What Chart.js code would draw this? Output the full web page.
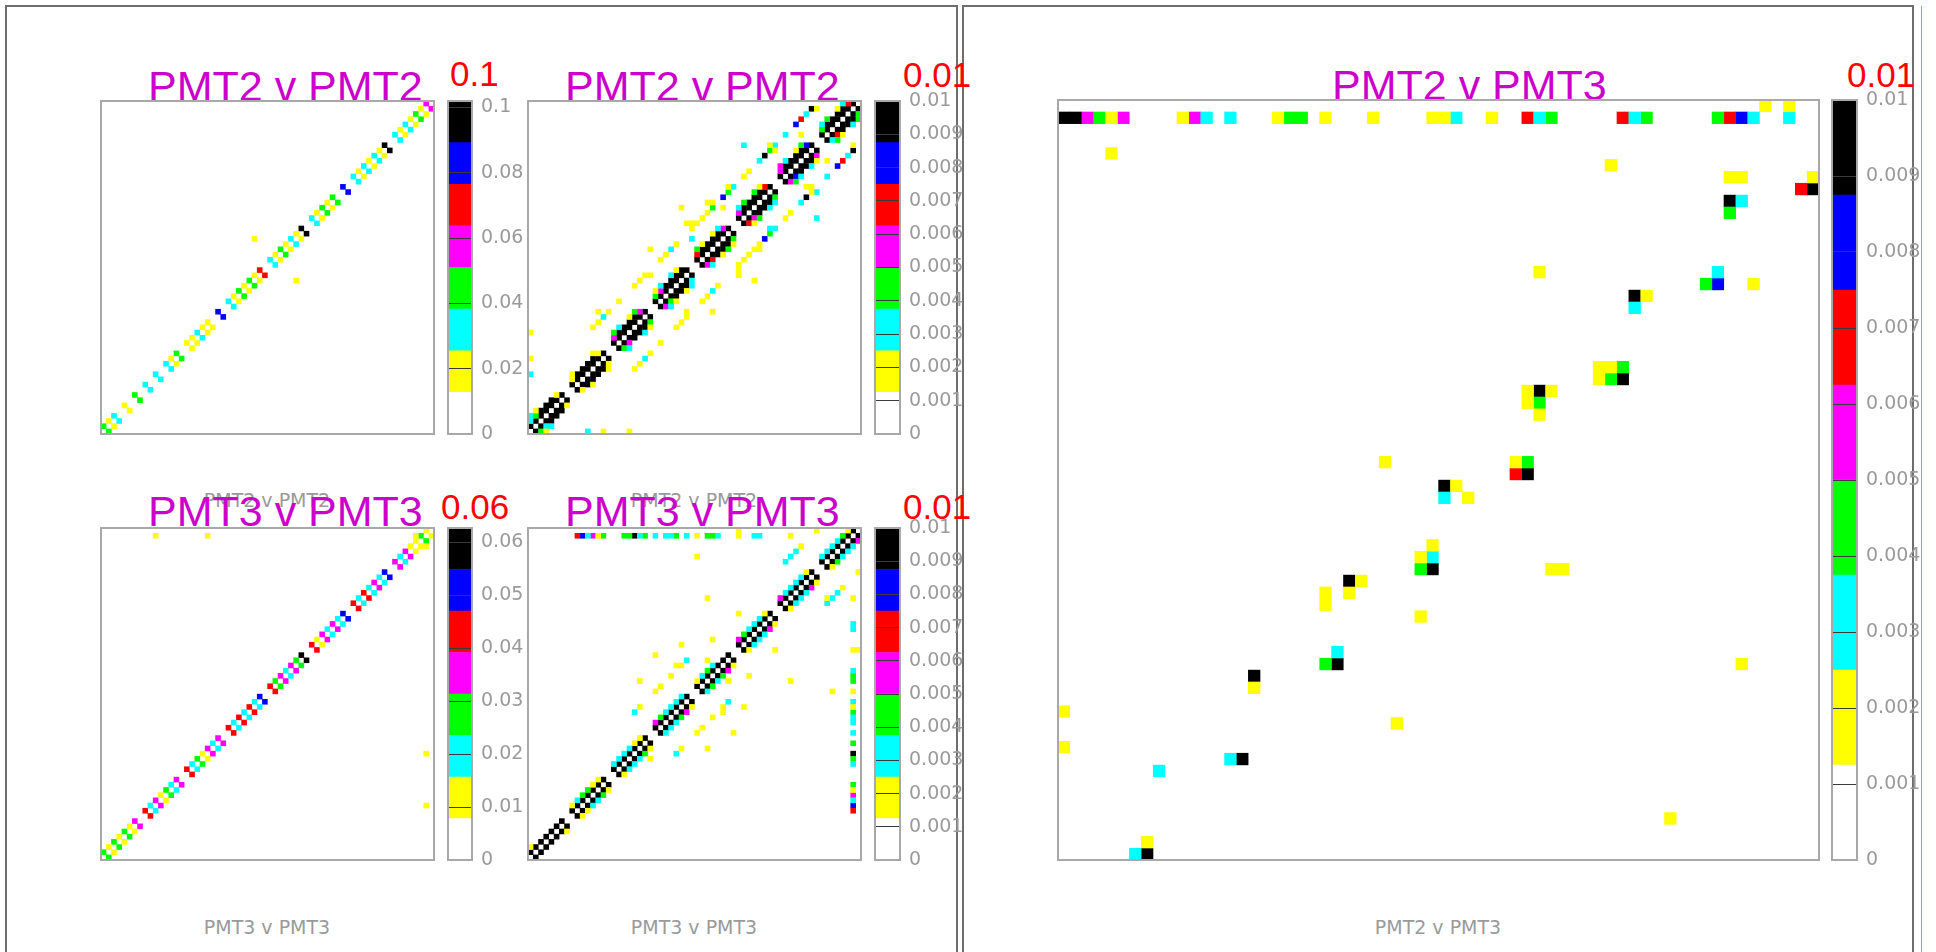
<!DOCTYPE html>
<html>
<head>
<meta charset="utf-8">
<title>PMT correlations</title>
<script src="https://cdn.jsdelivr.net/npm/chart.js@4.4.1/dist/chart.umd.min.js"></script>
<style>
  body { margin: 0; width: 1936px; height: 952px; background: #fff; position: relative; overflow: hidden; }
  canvas { position: absolute; }
  .frame { position: absolute; border: 2px solid #6e6e6e; box-sizing: border-box; }
  .txt { position: absolute; white-space: nowrap; line-height: 1; }
  .title { color: #cc00cc; font: 43px "Liberation Sans", Arial, sans-serif; }
  .zmax { color: #ff0000; font: 35px "Liberation Sans", Arial, sans-serif; }
  .xlab { color: #9a9a9a; font: 19px "DejaVu Sans", sans-serif; text-align: center; width: 300px; }
</style>
</head>
<body>
<div class="frame" style="left:5px;top:5px;width:953px;height:1000px"></div>
<div class="frame" style="left:962px;top:5px;width:952px;height:1000px"></div>
<div style="position:absolute;left:1921px;top:6px;width:1px;height:946px;background:#f08080"></div>

<!-- x axis titles -->
<div class="txt xlab" style="left:117px;top:489px">PMT2 v PMT2</div>
<div class="txt xlab" style="left:544px;top:489px">PMT2 v PMT2</div>
<div class="txt xlab" style="left:117px;top:916px">PMT3 v PMT3</div>
<div class="txt xlab" style="left:544px;top:916px">PMT3 v PMT3</div>
<div class="txt xlab" style="left:1288px;top:916px">PMT2 v PMT3</div>

<!-- histogram titles -->
<div class="txt title" style="left:148px;top:62px">PMT2 v PMT2</div>
<div class="txt title" style="left:565px;top:62px">PMT2 v PMT2</div>
<div class="txt title" style="left:148px;top:487px">PMT3 v PMT3</div>
<div class="txt title" style="left:565px;top:487px">PMT3 v PMT3</div>
<div class="txt title" style="left:1332px;top:61px">PMT2 v PMT3</div>

<!-- maximum of each colour scale -->
<div class="txt zmax" style="left:450px;top:54px">0.1</div>
<div class="txt zmax" style="left:903px;top:55px">0.01</div>
<div class="txt zmax" style="left:441px;top:487px">0.06</div>
<div class="txt zmax" style="left:903px;top:487px">0.01</div>
<div class="txt zmax" style="left:1847px;top:55px">0.01</div>

<script>
// colour bands of the z scale, lowest (empty) first
var bandColours = ['#ffffff', '#ffff00', '#00ffff', '#00ff00', '#ff00ff', '#ff0000', '#0000ff', '#000000'];
var nBins = 64;

// z scale maxima and colour bar tick labels
var zMax1 = 0.102, zMax2 = 0.01, zMax3 = 0.0627, zMax4 = 0.01, zMax5 = 0.01;
var zTicks1 = ['0', '0.02', '0.04', '0.06', '0.08', '0.1'];
var zTicks2 = ['0', '0.001', '0.002', '0.003', '0.004', '0.005', '0.006', '0.007', '0.008', '0.009', '0.01'];
var zTicks3 = ['0', '0.01', '0.02', '0.03', '0.04', '0.05', '0.06'];

// bin contents as colour band (1..7), '.' = empty
// "Dn" strings: bin (i+d, i), "Up" strings: bin (i, i+d), one 8 char group per block of 8 bins

// PMT2 v PMT2, coarse scale
var p1Dn1 = ['312.1.3.', '2.2.213.', '11211.6.', '2131315.', '2131217.', '21313.6.', '2121217.', '2121314'];
var p1Up1 = ['312.1.3.', '2.2.213.', '11211.6.', '2131315.', '2131217.', '21313.6.', '2121217.', '2121314'];
var p1Extra = [[29, 37, 1], [37, 29, 1]];

// PMT2 v PMT2, fine scale
var p2Dn1 = ['7777777.', '7777777.', '7777777.', '7777777.', '7777777.', '7777777.', '7777777.', '7777777'];
var p2Up1 = ['7777777.', '7777777.', '7777777.', '7777777.', '7777777.', '7777777.', '7777777.', '7777777'];
var p2Dn2 = ['327771..', '177771..', '347773..', '437772..', '457773..', '547773..', '467774..', '257773'];
var p2Up2 = ['237771..', '177771..', '477774..', '347777..', '577774..', '477775..', '477776..', '377775'];
var p2Dn3 = ['12......', '.1..1...', '2..21...', '21.12...', '2.131...', '13.22...', '32.21...', '31.23'];
var p2Up3 = ['21......', '1...1...', '32.13...', '12.21...', '31.12...', '23.31...', '42.13...', '23.12'];
var p2Extra = [
  [0, 19, 1], [0, 14, 1], [0, 11, 2], [11, 0, 2], [14, 0, 1], [19, 0, 1],
  [13, 23, 1], [14, 22, 2], [15, 23, 1], [13, 21, 1], [12, 20, 1], [17, 25, 1],
  [20, 28, 1], [21, 29, 1], [22, 30, 1], [23, 30, 1], [25, 33, 1],
  [25, 17, 1], [23, 15, 1], [22, 14, 2], [21, 13, 1], [20, 12, 1],
  [28, 20, 1], [29, 21, 1], [30, 22, 1], [30, 23, 1], [33, 25, 1],
  [54, 62, 7], [55, 62, 1], [53, 61, 2], [52, 60, 5], [51, 59, 6], [49, 57, 2], [52, 57, 1],
  [41, 55, 2], [46, 55, 1], [47, 55, 2], [46, 54, 3], [47, 54, 1], [45, 53, 7], [44, 52, 2],
  [42, 50, 1], [41, 49, 1], [57, 49, 2], [55, 41, 2],
  [62, 55, 1], [62, 54, 7], [61, 53, 2], [60, 52, 5], [59, 51, 6], [57, 52, 1],
  [53, 47, 1], [54, 47, 1], [55, 46, 2], [54, 46, 1], [53, 45, 7], [52, 44, 2], [49, 41, 1], [50, 42, 1],
  [38, 47, 1], [39, 47, 2], [38, 46, 3], [37, 45, 6], [34, 44, 1], [35, 44, 1], [35, 43, 3], [37, 43, 1],
  [33, 41, 1], [34, 42, 1], [32, 40, 1], [31, 39, 1], [31, 37, 2],
  [42, 34, 1], [43, 35, 1], [44, 36, 1], [44, 35, 1], [46, 39, 2], [47, 39, 2], [46, 38, 3], [45, 37, 6],
  [41, 33, 1], [40, 32, 1], [29, 43, 1], [43, 29, 1], [30, 40, 1], [31, 40, 1], [40, 30, 1], [40, 31, 1],
  [27, 35, 2], [35, 27, 2], [28, 36, 1], [36, 28, 1], [23, 35, 1], [35, 23, 1], [26, 34, 1], [34, 26, 1]
];

// PMT3 v PMT3, coarse scale
var p3Dn1 = ['3131314.', '5241324.', '5231424.', '5252526.', '5342437.', '5142426.', '5252426.', '4241131'];
var p3Up1 = ['3131314.', '5241324.', '5231424.', '5252526.', '5342437.', '5142426.', '5252426.', '4241131'];
var p3Extra = [[10, 62, 1], [20, 62, 1], [62, 20, 1], [62, 10, 1], [60, 62, 1], [62, 60, 1]];

// PMT3 v PMT3, fine scale
var p4Dn1 = ['7777777.', '7777777.', '7777777.', '7777777.', '7777777.', '7777777.', '7777777.', '7777777'];
var p4Up1 = ['7777777.', '7777777.', '7777777.', '7777777.', '7777777.', '7777777.', '7777777.', '7777777'];
var p4Dn2 = ['.....1..', '112231..', '122231..', '222341..', '232341..', '122241..', '122241..', '132224'];
var p4Up2 = ['1.......', '123311..', '222211..', '432222..', '1232....', '432221..', '422221..', '222231'];
var p4Extra = [
  [9, 62, 5], [10, 62, 6], [11, 62, 2], [12, 62, 4], [13, 62, 1], [14, 62, 3], [18, 62, 3], [19, 62, 3],
  [20, 62, 7], [21, 62, 2], [22, 62, 3], [24, 62, 2], [26, 62, 2], [27, 62, 2], [28, 62, 3], [30, 62, 2],
  [32, 62, 1], [34, 62, 3], [35, 62, 3], [36, 62, 2], [40, 62, 1], [43, 62, 2], [44, 62, 2], [50, 62, 1],
  [40, 63, 1], [55, 63, 1],
  [62, 9, 5], [62, 10, 6], [62, 11, 2], [62, 12, 4], [62, 13, 1], [62, 14, 3], [62, 18, 2], [62, 19, 3],
  [62, 20, 7], [62, 22, 3], [62, 24, 2], [62, 26, 2], [62, 27, 2], [62, 28, 3], [62, 29, 1], [62, 30, 2],
  [62, 32, 1], [62, 34, 3], [62, 35, 3], [62, 36, 2], [62, 40, 1], [63, 40, 1], [62, 44, 2], [62, 45, 2],
  [62, 50, 1], [63, 55, 1],
  [32, 58, 1], [34, 50, 1], [40, 47, 1], [35, 42, 1], [29, 41, 1], [24, 39, 1], [30, 38, 2], [28, 37, 1],
  [29, 37, 1], [34, 38, 1], [27, 35, 1], [21, 34, 1], [24, 32, 1], [25, 33, 1], [21, 29, 1], [20, 28, 2],
  [42, 35, 1], [47, 40, 1], [50, 34, 1], [58, 32, 1], [57, 50, 1], [58, 50, 2], [57, 49, 2], [59, 51, 2],
  [60, 52, 1], [49, 57, 2], [50, 58, 2], [51, 59, 2], [52, 60, 1], [38, 34, 1], [38, 30, 2], [37, 28, 1],
  [37, 29, 1], [41, 29, 1], [35, 27, 1], [33, 25, 1], [32, 24, 1], [39, 24, 1], [34, 21, 1], [29, 21, 1],
  [28, 20, 2], [23, 19, 1]
];

// PMT2 v PMT3, every filled bin [x bin, y bin, band]
var p5Cells = [
  [0, 62, 7], [1, 62, 7], [2, 62, 4], [3, 62, 3], [4, 62, 1], [5, 62, 4], [10, 62, 1], [11, 62, 4],
  [12, 62, 2], [14, 62, 2], [18, 62, 1], [19, 62, 3], [20, 62, 3], [22, 62, 1], [26, 62, 1], [31, 62, 1],
  [32, 62, 1], [33, 62, 2], [36, 62, 1], [39, 62, 5], [40, 62, 2], [41, 62, 3], [47, 62, 5], [48, 62, 2],
  [49, 62, 3], [55, 62, 3], [56, 62, 5], [57, 62, 6], [58, 62, 2], [61, 62, 2], [59, 63, 1], [61, 63, 1],
  [4, 59, 1], [46, 58, 1], [56, 57, 1], [57, 57, 1], [63, 57, 1], [62, 56, 5], [63, 56, 7],
  [56, 55, 7], [57, 55, 2], [56, 54, 3],
  [40, 49, 1], [55, 49, 2], [54, 48, 3], [55, 48, 6], [58, 48, 1], [48, 47, 7], [49, 47, 1], [48, 46, 2],
  [45, 41, 1], [46, 41, 1], [47, 41, 3], [45, 40, 1], [46, 40, 3], [47, 40, 7],
  [39, 39, 1], [40, 39, 7], [41, 39, 1], [39, 38, 1], [40, 38, 3], [40, 37, 1],
  [27, 33, 1], [38, 33, 1], [39, 33, 3], [38, 32, 5], [39, 32, 7],
  [32, 31, 7], [33, 31, 1], [32, 30, 2], [34, 30, 1],
  [31, 26, 1], [30, 25, 1], [31, 25, 2], [30, 24, 3], [31, 24, 7], [41, 24, 1], [42, 24, 1],
  [24, 23, 7], [25, 23, 1], [24, 22, 1], [22, 22, 1], [22, 21, 1], [30, 20, 1],
  [23, 17, 2], [22, 16, 3], [23, 16, 7], [57, 16, 1], [16, 15, 7], [16, 14, 1],
  [0, 12, 1], [28, 11, 1], [0, 9, 1], [14, 8, 2], [15, 8, 7], [8, 7, 2],
  [51, 3, 1], [7, 1, 1], [6, 0, 2], [7, 0, 7]
];

// turn a diagonal string into [x bin, y bin, band]
function fromDiag(blocks, d, above) {
  var s = blocks.join('');
  var out = [];
  for (var i = 0; i < s.length; i++) {
    if (s[i] === '.') continue;
    out.push(above ? [i, i + d, +s[i]] : [i + d, i, +s[i]]);
  }
  return out;
}

var p1Cells = fromDiag(p1Dn1, 1, false).concat(fromDiag(p1Up1, 1, true), p1Extra);
var p2Cells = fromDiag(p2Dn1, 1, false).concat(fromDiag(p2Up1, 1, true), fromDiag(p2Dn2, 2, false),
  fromDiag(p2Up2, 2, true), fromDiag(p2Dn3, 3, false), fromDiag(p2Up3, 3, true), p2Extra);
var p3Cells = fromDiag(p3Dn1, 1, false).concat(fromDiag(p3Up1, 1, true), p3Extra);
var p4Cells = fromDiag(p4Dn1, 1, false).concat(fromDiag(p4Up1, 1, true), fromDiag(p4Dn2, 2, false),
  fromDiag(p4Up2, 2, true), p4Extra);

// where each histogram sits on the page
var panels = [
  { x: 101, y: 101, w: 333, h: 333, cbX: 448, cbW: 24, cells: p1Cells, zMax: zMax1, zTicks: zTicks1 },
  { x: 528, y: 101, w: 333, h: 333, cbX: 875, cbW: 25, cells: p2Cells, zMax: zMax2, zTicks: zTicks2 },
  { x: 101, y: 528, w: 333, h: 332, cbX: 448, cbW: 24, cells: p3Cells, zMax: zMax3, zTicks: zTicks3 },
  { x: 528, y: 528, w: 333, h: 332, cbX: 875, cbW: 25, cells: p4Cells, zMax: zMax4, zTicks: zTicks2 },
  { x: 1058, y: 100, w: 761, h: 760, cbX: 1832, cbW: 25, cells: p5Cells, zMax: zMax5, zTicks: zTicks2 }
];

var framePlugin = {
  id: 'frame',
  afterDraw: function (chart) {
    var a = chart.chartArea, ctx = chart.ctx;
    ctx.save();
    ctx.strokeStyle = '#a8a8a8';
    ctx.lineWidth = 2;
    ctx.strokeRect(a.left, a.top, a.right - a.left, a.bottom - a.top);
    ctx.restore();
  }
};

function makeCanvas(left, top, w, h) {
  var c = document.createElement('canvas');
  c.width = w;
  c.height = h;
  c.style.left = left + 'px';
  c.style.top = top + 'px';
  document.body.appendChild(c);
  return c;
}

function cellRadius(ctx) {
  var a = ctx.chart.chartArea;
  if (!a) return 2;
  var side = (a.right - a.left) / nBins + 0.4;
  return side * Math.SQRT1_2;
}

function heatmap(p) {
  var pad = 3;
  var cv = makeCanvas(p.x - pad, p.y - pad, p.w + 2 * pad, p.h + 2 * pad);
  var datasets = [];
  for (var k = 1; k < bandColours.length; k++) {
    datasets.push({
      data: p.cells.filter(function (c) { return c[2] === k; })
                   .map(function (c) { return { x: c[0] + 0.5, y: c[1] + 0.5 }; }),
      pointStyle: 'rect',
      pointBackgroundColor: bandColours[k],
      pointBorderWidth: 0,
      pointRadius: cellRadius,
      pointHoverRadius: cellRadius
    });
  }
  new Chart(cv, {
    type: 'scatter',
    data: { datasets: datasets },
    options: {
      responsive: false,
      animation: false,
      events: [],
      layout: { padding: pad },
      plugins: { legend: { display: false }, tooltip: { enabled: false } },
      scales: {
        x: { type: 'linear', min: 0, max: nBins, display: false },
        y: { type: 'linear', min: 0, max: nBins, display: false }
      }
    },
    plugins: [framePlugin]
  });
}

function colourBar(p) {
  var padT = 24, padL = 2, axisW = 72;
  var cv = makeCanvas(p.cbX - padL, p.y - padT, padL + p.cbW + axisW, p.h + 2 * padT);
  var step = p.zMax / bandColours.length;
  var datasets = bandColours.map(function (col) {
    return { data: [step], backgroundColor: col, borderWidth: 0, barPercentage: 1, categoryPercentage: 1 };
  });
  new Chart(cv, {
    type: 'bar',
    data: { labels: [''], datasets: datasets },
    options: {
      responsive: false,
      animation: false,
      events: [],
      layout: { padding: { left: padL, right: 0, top: padT, bottom: padT } },
      plugins: { legend: { display: false }, tooltip: { enabled: false } },
      scales: {
        x: { stacked: true, display: false },
        y: {
          stacked: true,
          position: 'right',
          min: 0,
          max: p.zMax,
          afterFit: function (s) { s.width = axisW; },
          afterBuildTicks: function (s) {
            s.ticks = p.zTicks.map(function (t) { return { value: parseFloat(t) }; });
          },
          ticks: {
            color: '#9a9a9a',
            padding: 9,
            font: { family: 'DejaVu Sans', size: 19 },
            callback: function (v, i) { return p.zTicks[i]; }
          },
          grid: { color: '#3a3a3a', lineWidth: 1, drawTicks: false, z: 1 },
          border: { display: false }
        }
      }
    },
    plugins: [framePlugin]
  });
}

panels.forEach(heatmap);
panels.forEach(colourBar);
</script>
</body>
</html>
